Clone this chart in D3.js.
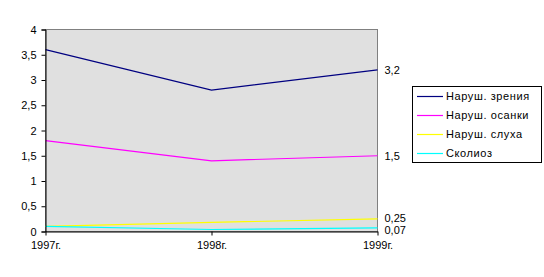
<!DOCTYPE html>
<html><head><meta charset="utf-8">
<script src="https://cdn.jsdelivr.net/npm/d3@7"></script>
<style>body{margin:0;background:#fff}svg{display:block}text{font-family:"Liberation Sans",Arial,sans-serif;font-size:11px;fill:#000}</style>
</head><body><svg id="c" width="544" height="277"></svg>
<script>
const years = ["1997г.", "1998г.", "1999г."];
const seriesNames = ["Наруш. зрения", "Наруш. осанки", "Наруш. слуха", "Сколиоз"];
const seriesColors = ["#000080", "#ff00ff", "#ffff00", "#00ffff"];
const vision = [3.6, 2.8, 3.2];
const posture = [1.8, 1.4, 1.5];
const hearing = [0.1, 0.18, 0.25];
const scoliosis = [0.1, 0.04, 0.07];
const endLabels = ["3,2", "1,5", "0,25", "0,07"];
const yTicks = [0, 0.5, 1, 1.5, 2, 2.5, 3, 3.5, 4];

const series = [vision, posture, hearing, scoliosis];
const svg = d3.select("#c");
const L = 45.5, R = 377.5, T = 29.5, B = 231.5;
const x = d3.scalePoint().domain(years).range([L, R]);
const y = d3.scaleLinear().domain([0, 4]).range([B, T]);
const fmt = v => String(v).replace(".", ",");

svg.append("rect").attr("x", L).attr("y", T).attr("width", R - L).attr("height", B - T)
  .attr("fill", "#e0e0e0").attr("stroke", "#808080").attr("stroke-width", 1);

const line = d3.line().x((d, i) => x(years[i])).y(d => y(d));
series.forEach((s, k) => {
  svg.append("path").datum(s).attr("d", line).attr("fill", "none")
    .attr("stroke", seriesColors[k]).attr("stroke-width", 1.2);
});

const ya = svg.append("g").attr("transform", `translate(${L},0)`)
  .call(d3.axisLeft(y).tickValues(yTicks).tickFormat(fmt).tickSize(4).tickPadding(5));
ya.select(".domain").attr("stroke", "#000");
ya.selectAll("line").attr("stroke", "#000");
ya.selectAll("text").style("font-family", '"Liberation Sans",Arial,sans-serif').style("font-size", "11px");

const xa = svg.append("g").attr("transform", `translate(0,${B})`)
  .call(d3.axisBottom(x).tickSize(4).tickSizeOuter(0).tickPadding(6));
xa.select(".domain").attr("stroke", "#000");
xa.selectAll("line").attr("stroke", "#000");
xa.selectAll("text").style("font-family", '"Liberation Sans",Arial,sans-serif').style("font-size", "11px");

// end labels
const lastVals = series.map(s => s[2]);
const labelY = [y(lastVals[0]), y(lastVals[1]), y(lastVals[2]) - 1, y(lastVals[3]) + 2];
endLabels.forEach((t, k) => {
  svg.append("text").attr("x", R + 7).attr("y", labelY[k]).attr("dy", "0.35em").text(t);
});

// legend
const lg = svg.append("g");
lg.append("rect").attr("x", 412.5).attr("y", 86.5).attr("width", 129).attr("height", 76)
  .attr("fill", "#fff").attr("stroke", "#000");
seriesNames.forEach((n, k) => {
  const yy = 96 + k * 19;
  lg.append("line").attr("x1", 417).attr("x2", 443).attr("y1", yy + 0.5).attr("y2", yy + 0.5)
    .attr("stroke", seriesColors[k]).attr("stroke-width", 1.2);
  lg.append("text").attr("x", 446).attr("y", yy).attr("dy", "0.35em")
    .attr("letter-spacing", "0.6px").text(n);
});
</script></body></html>
